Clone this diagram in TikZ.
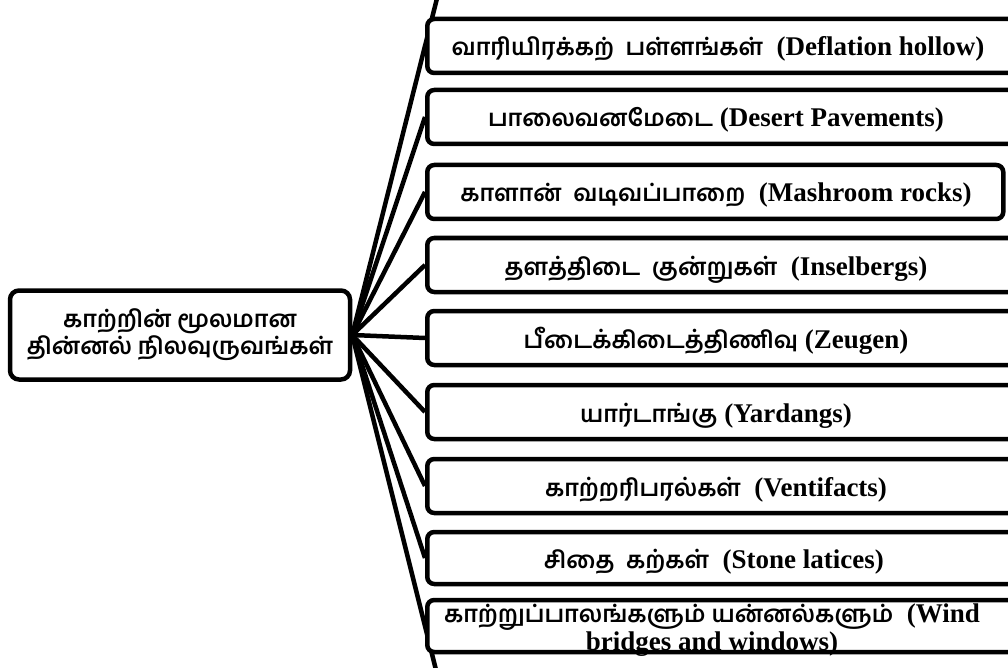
\documentclass[tikz,border=0pt]{standalone}
\usepackage{fontspec}
\setmainfont{Liberation Serif}
\newfontfamily\tamil[Script=Tamil]{Hind Madurai}
\usetikzlibrary{backgrounds}
\newcommand{\tml}[1]{{\tamil\bfseries\fontsize{23.5}{25}\selectfont #1}}

\begin{document}
\begin{tikzpicture}[x=1pt,y=-1pt]
	\tikzstyle{root}=[draw=black,line width=4.5pt,rounded corners=9pt,fill=white,minimum width=340pt,minimum height=89pt,align=center,font=\tamil\bfseries\fontsize{23.5}{27}\selectfont]
	\tikzstyle{item}=[draw=black,line width=4.5pt,rounded corners=7pt,fill=white,anchor=west,minimum width=640pt,minimum height=54pt]
	\tikzstyle{lbl}=[inner sep=0pt,anchor=base,font=\fontsize{27}{24}\selectfont\bfseries]
	\tikzstyle{link}=[line width=4.5pt]
	\clip (0,0) rectangle (1008,668);
	\node[root] (c) at (180,335) {காற்றின் மூலமான\\தின்னல் நிலவுருவங்கள்};
	\node[item] (b1) at (425,46) {};
	\node[item] (b2) at (425,117) {};
	\node[item,minimum width=576pt] (b3) at (425,192) {};
	\node[item] (b4) at (425,265) {};
	\node[item] (b5) at (425,338) {};
	\node[item] (b6) at (425,412) {};
	\node[item] (b7) at (425,486) {};
	\node[item,minimum height=52pt] (b8) at (425,558) {};
	\node[item,minimum height=52pt] (b9) at (425,626) {};
	\node[lbl] (t1) at (718,56) {\tml{வாரியிரக்கற்\ \ பள்ளங்கள்}\ \ (Deflation hollow)};
	\node[lbl] (t2) at (716,127) {\tml{பாலைவனமேடை} (Desert Pavements)};
	\node[lbl] (t3) at (716,202) {\tml{காளான்\ \ வடிவப்பாறை}\ \ (Mashroom rocks)};
	\node[lbl] (t4) at (716,275) {\tml{தளத்திடை\ \ குன்றுகள்}\ \ (Inselbergs)};
	\node[lbl] (t5) at (716,348) {\tml{பீடைக்கிடைத்திணிவு} (Zeugen)};
	\node[lbl] (t6) at (716,422) {\tml{யார்டாங்கு} (Yardangs)};
	\node[lbl] (t7) at (716,496) {\tml{காற்றரிபரல்கள்}\ \ (Ventifacts)};
	\node[lbl] (t8) at (714,568) {\tml{சிதை\ \ கற்கள்}\ \ (Stone latices)};
	\node[lbl,anchor=center,align=center] (t9) at (712,630) {\tml{காற்றுப்பாலங்களும்\ யன்னல்களும்}\ \ (Wind\\bridges and windows)};
	\begin{scope}[on background layer]
	\draw[link,shorten >=-50pt] (c.east) -- (b1.west);
	\draw[link] (c.east) -- (b2.west);
	\draw[link] (c.east) -- (b3.west);
	\draw[link] (c.east) -- (b4.west);
	\draw[link] (c.east) -- (b5.west);
	\draw[link] (c.east) -- (b6.west);
	\draw[link] (c.east) -- (b7.west);
	\draw[link] (c.east) -- (b8.west);
	\draw[link,shorten >=-46pt] (c.east) -- (b9.west);
	\end{scope}
\end{tikzpicture}
\end{document}
